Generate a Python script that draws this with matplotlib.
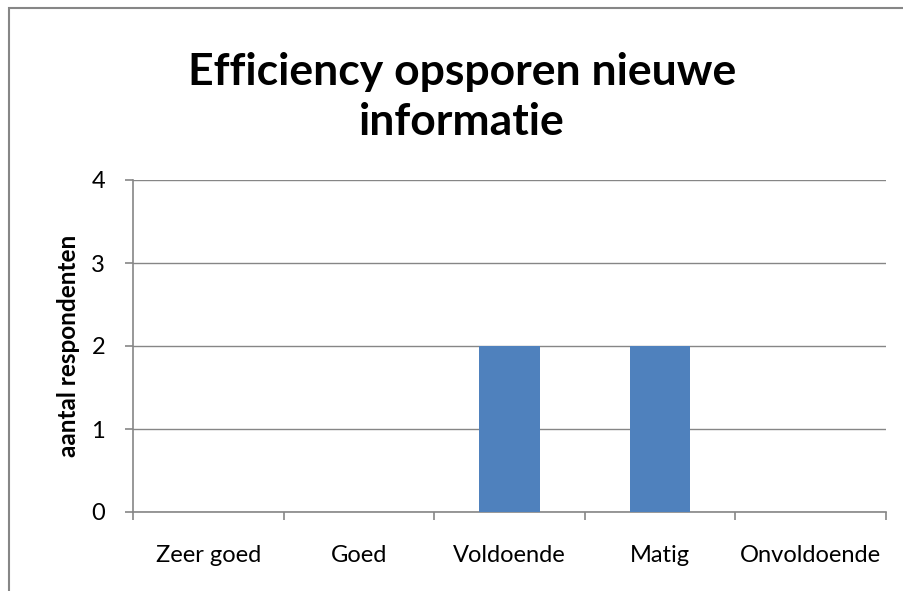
import matplotlib
matplotlib.use("Agg")
import matplotlib.pyplot as plt
from matplotlib.patches import Rectangle

categories = ["Zeer goed", "Goed", "Voldoende", "Matig", "Onvoldoende"]
values = [0, 0, 2, 2, 0]
yticks = [0, 1, 2, 3, 4]

plt.rcParams['font.family'] = ['Lato', 'DejaVu Sans']
gray = '#868686'

fig = plt.figure(figsize=(9.04, 5.91), dpi=100)
ax = fig.add_axes([133/904, 1-512/591, (886-133)/904, (512-180)/591])

x = list(range(len(categories)))
ax.bar(x, values, width=0.4, color='#4F81BD', zorder=3)
ax.set_xlim(-0.5, len(categories)-0.5)
ax.set_ylim(0, 4)
ax.set_yticks(yticks)
ax.set_yticklabels([str(v) for v in yticks], fontsize=17)
ax.yaxis.grid(True, color=gray, linewidth=1, zorder=0)
ax.set_xticks([i-0.5 for i in range(len(categories)+1)])
ax.set_xticklabels([])
ax.set_xticks(x, minor=True)
ax.set_xticklabels(categories, minor=True, fontsize=17)
ax.tick_params(axis='x', which='minor', length=0, pad=24)
ax.tick_params(axis='x', which='major', length=6, color=gray, width=1.2, direction='out')
ax.tick_params(axis='y', length=6, color=gray, width=1.2, direction='out', pad=14)
for s in ['top', 'right']:
    ax.spines[s].set_visible(False)
for s in ['left', 'bottom']:
    ax.spines[s].set_color(gray)
    ax.spines[s].set_linewidth(1.2)
ax.set_ylabel("aantal respondenten", fontsize=17.5, fontweight='bold', labelpad=8)

fig.text(462/904, 1-97/591, "Efficiency opsporen nieuwe\ninformatie", ha='center', va='center',
         fontsize=32, fontweight='bold', linespacing=1.3)

fig.patches.append(Rectangle((9/904, -0.1), 1.2, 1-8/591+0.1, transform=fig.transFigure,
                             fill=False, edgecolor=gray, linewidth=1.5))

fig.savefig("out.png", dpi=100)
